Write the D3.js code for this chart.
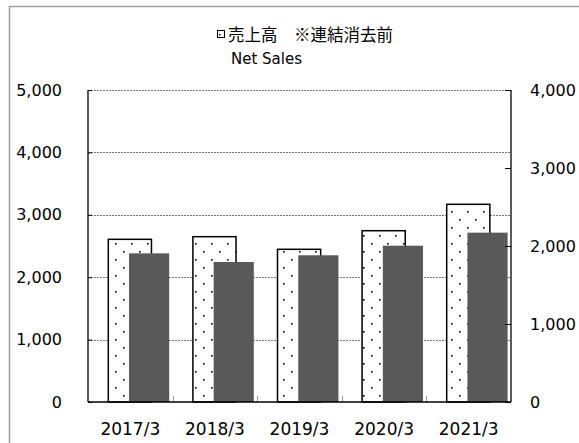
<!DOCTYPE html>
<html>
<head>
<meta charset="utf-8">
<script src="https://cdn.jsdelivr.net/npm/d3@7/dist/d3.min.js"></script>
<style>
  body { margin: 0; background: #fff; }
  svg { display: block; }
  text { font-family: "DejaVu Sans", Verdana, sans-serif; fill: #000; }
</style>
</head>
<body>
<svg></svg>
<script>
// data
const years = ["2017/3", "2018/3", "2019/3", "2020/3", "2021/3"]
const netSales = [2607, 2649, 2447, 2745, 3168]     // dotted bars, left axis
const secondSeries = [1906, 1795, 1881, 2004, 2171] // dark bars, right axis
const leftTicks = [0, 1000, 2000, 3000, 4000, 5000]
const rightTicks = [0, 1000, 2000, 3000, 4000]

const width = 579
const height = 443

const svg = d3.select("svg")
    .attr("width", width)
    .attr("height", height)

// dot pattern for net sales bars
const defs = svg.append("defs")
const pat = defs.append("pattern")
    .attr("id", "dots")
    .attr("patternUnits", "userSpaceOnUse")
    .attr("width", 16)
    .attr("height", 16)
pat.append("rect").attr("width", 16).attr("height", 16).attr("fill", "#fff")
pat.append("rect").attr("x", 3).attr("y", 3).attr("width", 1.6).attr("height", 1.6).attr("fill", "#000")
pat.append("rect").attr("x", 11).attr("y", 11).attr("width", 1.6).attr("height", 1.6).attr("fill", "#000")

// outer frame
svg.append("rect")
    .attr("x", 9.5).attr("y", 6.5)
    .attr("width", 600).attr("height", 500)
    .attr("fill", "none")
    .attr("stroke", "#a0a0a0")
    .attr("stroke-width", 1.5)

const plotLeft = 88
const plotRight = 511
const plotTop = 90
const plotBottom = 402

const x = d3.scaleBand()
    .domain(years)
    .range([plotLeft, plotRight])
    .padding(0)

const yLeft = d3.scaleLinear()
    .domain([0, 5000])
    .range([plotBottom, plotTop])

const yRight = d3.scaleLinear()
    .domain([0, 4000])
    .range([plotBottom, plotTop])

const fmt = d3.format(",")

// gridlines
svg.append("g")
    .selectAll("line")
    .data(leftTicks.filter(d => d > 0))
    .enter()
    .append("line")
    .attr("x1", plotLeft)
    .attr("x2", plotRight)
    .attr("y1", d => Math.round(yLeft(d)) + 0.5)
    .attr("y2", d => Math.round(yLeft(d)) + 0.5)
    .attr("stroke", "#777")
    .attr("stroke-width", 1)
    .attr("stroke-dasharray", "2,1")

const bw = x.bandwidth()

// net sales bars (dotted)
svg.append("g")
    .selectAll("rect")
    .data(netSales)
    .enter()
    .append("rect")
    .attr("x", (d, i) => x(years[i]) + bw * 0.24)
    .attr("width", bw * 0.51)
    .attr("y", d => yLeft(d))
    .attr("height", d => plotBottom - yLeft(d))
    .attr("fill", "url(#dots)")
    .attr("stroke", "#000")
    .attr("stroke-width", 1.5)

// second series bars (dark)
svg.append("g")
    .selectAll("rect")
    .data(secondSeries)
    .enter()
    .append("rect")
    .attr("x", (d, i) => x(years[i]) + bw * 0.485)
    .attr("width", bw * 0.475)
    .attr("y", d => yRight(d))
    .attr("height", d => plotBottom - yRight(d))
    .attr("fill", "#595959")

// category separator ticks
svg.append("g")
    .selectAll("line")
    .data(years.slice(1))
    .enter()
    .append("line")
    .attr("x1", d => Math.round(x(d)) + 0.5)
    .attr("x2", d => Math.round(x(d)) + 0.5)
    .attr("y1", plotBottom)
    .attr("y2", plotBottom - 6)
    .attr("stroke", "#999")
    .attr("stroke-width", 1)

// left axis
const leftAxis = svg.append("g")
    .attr("transform", `translate(${plotLeft},0)`)
    .call(d3.axisLeft(yLeft).tickValues(leftTicks).tickSize(-4).tickPadding(26).tickFormat(fmt))
leftAxis.select(".domain").attr("stroke", "#000").attr("stroke-width", 1.3).attr("d", `M0,${plotTop}V${plotBottom}`)
leftAxis.selectAll(".tick line").attr("stroke", "#000")
leftAxis.selectAll("text").style("font-size", "16px").attr("fill", "#000")

// right axis
const rightAxis = svg.append("g")
    .attr("transform", `translate(${plotRight},0)`)
    .call(d3.axisRight(yRight).tickValues(rightTicks).tickSize(-6).tickPadding(19).tickFormat(fmt))
rightAxis.select(".domain").attr("stroke", "#000").attr("stroke-width", 1.3).attr("d", `M0,${plotTop}V${plotBottom}`)
rightAxis.selectAll(".tick line").attr("stroke", "#000")
rightAxis.selectAll("text").style("font-size", "16px").attr("fill", "#000")

// bottom axis
const bottomAxis = svg.append("g")
    .attr("transform", `translate(0,${plotBottom})`)
    .call(d3.axisBottom(x).tickSize(0).tickPadding(21))
bottomAxis.select(".domain").attr("stroke", "#000").attr("stroke-width", 1.3).attr("d", `M${plotLeft},0H${plotRight}`)
bottomAxis.selectAll("text").style("font-size", "17px").attr("fill", "#000")

// legend / title
const legend = svg.append("g")
legend.append("rect")
    .attr("x", 217.5).attr("y", 30.5)
    .attr("width", 7).attr("height", 7)
    .attr("fill", "#fff")
    .attr("stroke", "#000")
    .attr("stroke-width", 1)
legend.append("rect")
    .attr("x", 219).attr("y", 34).attr("width", 1.5).attr("height", 1.5).attr("fill", "#000")
legend.append("text")
    .attr("x", 228).attr("y", 41)
    .style("font-family", "'Noto Sans CJK JP', sans-serif")
    .style("font-size", "16.5px")
    .text("売上高　※連結消去前")
legend.append("text")
    .attr("x", 231).attr("y", 64)
    .style("font-size", "15px")
    .text("Net Sales")
</script>
</body>
</html>
